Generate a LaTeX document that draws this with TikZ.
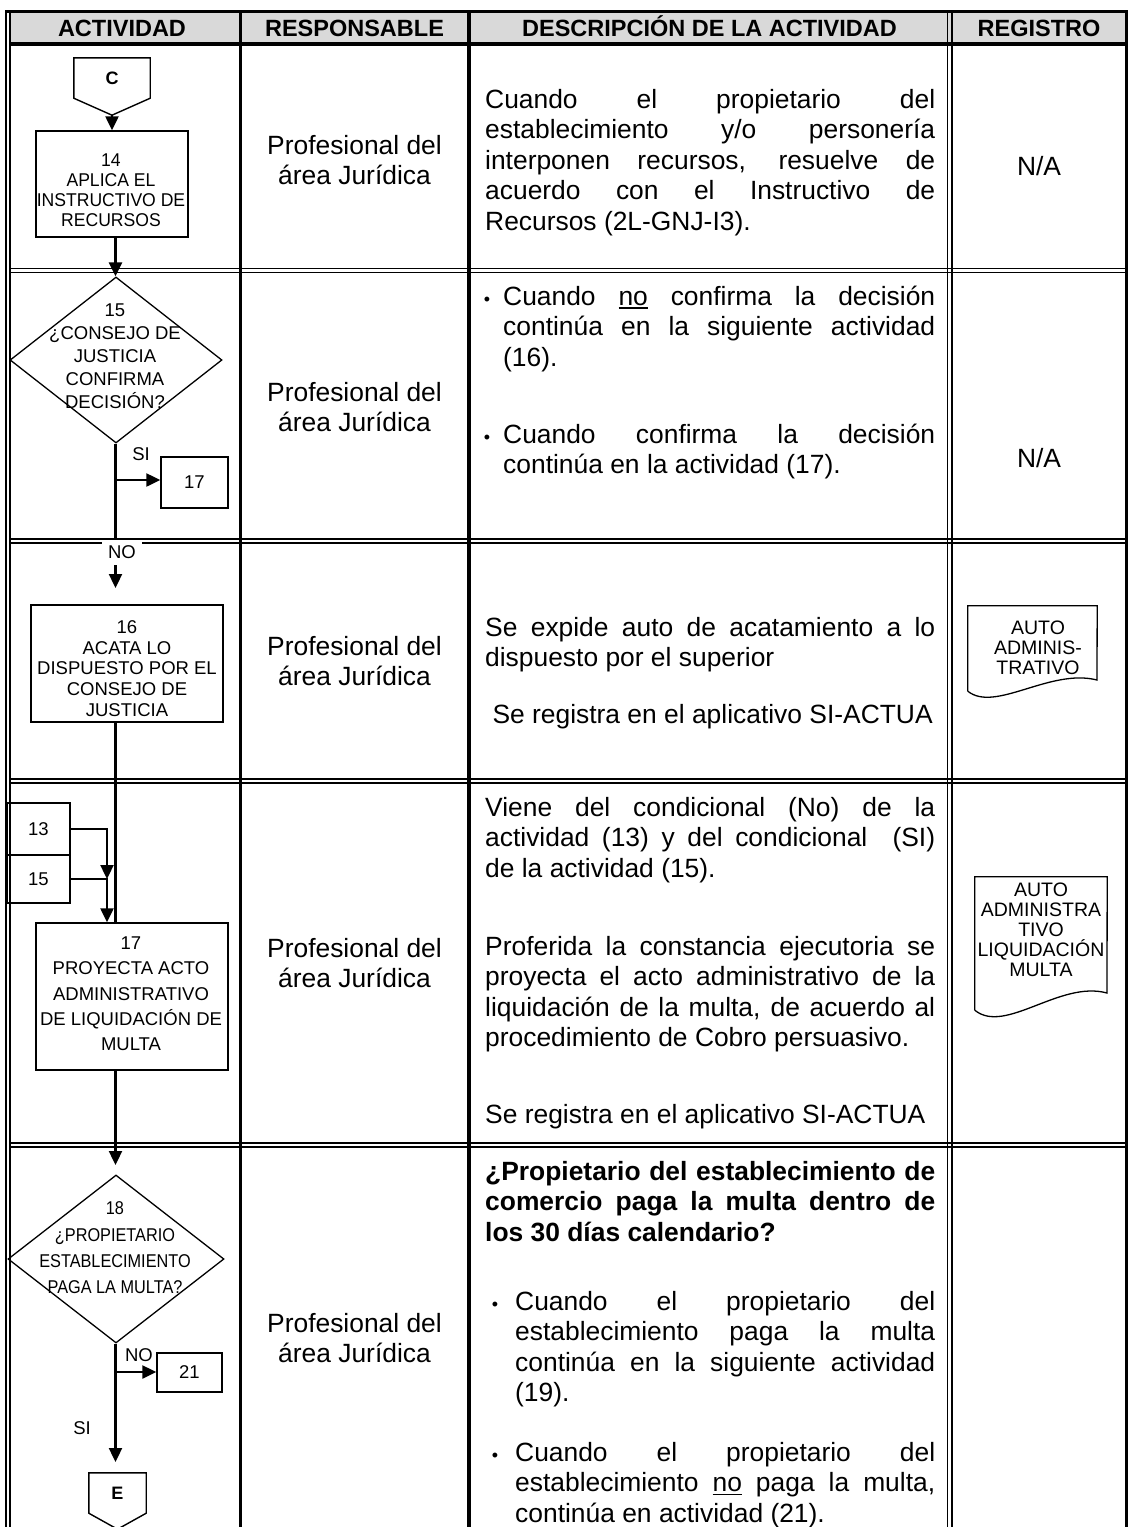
\documentclass[tikz,border=0pt]{standalone}
\usepackage{fontspec}
\usepackage{graphicx}
\setmainfont{Liberation Sans}
\usetikzlibrary{arrows.meta,shapes.geometric,calc}
\definecolor{hdr}{HTML}{D9D9D9}
\newcommand\myul[1]{\leavevmode\setbox0\hbox{#1}\rlap{\rule[-3.5pt]{\wd0}{1.6pt}}\box0{}}
\newcommand\descfont{\fontsize{26.4}{30.5}\selectfont\parindent=0pt \hyphenpenalty=10000 \exhyphenpenalty=10000 \tolerance=9999 }
\newcommand\boldfont{\descfont\bfseries}
\newcommand\cz[2]{\scalebox{#1}[1]{\begin{tabular}{@{}c@{}}#2\end{tabular}}}
\begin{document}
\begin{tikzpicture}[x=1pt,y=-1pt,
  hd/.style={font=\fontsize{23.5}{28}\selectfont\bfseries, inner sep=0pt, anchor=base},
  resp/.style={font=\fontsize{26.4}{30.5}\selectfont, align=center, inner sep=0pt},
  desc/.style={font=\descfont, text width=450pt, align=justify, inner sep=0pt, anchor=north west},
  bdesc/.style={desc, font=\boldfont},
  bul/.style={desc, text width=432pt},
  bul5/.style={desc, text width=420pt},
  dot/.style={font=\fontsize{18}{20}\selectfont, inner sep=0pt, anchor=base},
  na/.style={font=\fontsize{26.4}{30}\selectfont, inner sep=0pt},
  box/.style={draw, line width=1.4pt, inner sep=0pt, font=\fontsize{18.5}{21}\selectfont},
  dia/.style={diamond, draw, line width=1.3pt, inner sep=0pt},
  btxt/.style={inner sep=0pt, align=center},
  lbl/.style={font=\fontsize{18.5}{21}\selectfont, inner sep=0pt},
  flow/.style={line width=2.3pt},
  arr/.style={flow, -{Triangle[length=14pt,width=13pt]}},
  grid/.style={line width=1.5pt},
]
\useasboundingbox (0,0) rectangle (1128,1527);

% ---------- table ----------
\fill[hdr] (10,11) rectangle (1126,44);
\draw[line width=3pt] (6,11) -- (1127.5,11);
\draw[line width=3.5pt] (10,44) -- (1126,44);
\foreach \yy in {270.5,541,781,1145}{
  \draw[grid] (10,\yy-2) -- (1126,\yy-2);
  \draw[grid] (10,\yy+2) -- (1126,\yy+2);
}
\draw[grid] (6,10) -- (6,1527);
\draw[grid] (10,10) -- (10,1527);
\draw[line width=3pt] (240,11) -- (240,1527);
\draw[line width=3.5pt] (469,11) -- (469,1527);
\draw[line width=1.5pt] (947.5,11) -- (947.5,1527);
\draw[line width=1.5pt] (952,11) -- (952,1527);
\draw[line width=2.5pt] (1126.5,10) -- (1126.5,1527);

% ---------- header ----------
\node[hd] (hA) at (122,36) {ACTIVIDAD};
\node[hd] (hR) at (354.5,36) {RESPONSABLE};
\node[hd] (hD) at (709.5,36) {DESCRIPCIÓN DE LA ACTIVIDAD};
\node[hd] (hG) at (1039,36) {REGISTRO};

% ---------- responsable ----------
\node[resp] (p1) at (354.5,160) {Profesional del\\área Jurídica};
\node[resp] (p2) at (354.5,407) {Profesional del\\área Jurídica};
\node[resp] (p3) at (354.5,661) {Profesional del\\área Jurídica};
\node[resp] (p4) at (354.5,963) {Profesional del\\área Jurídica};
\node[resp] (p5) at (354.5,1338) {Profesional del\\área Jurídica};

% ---------- descripcion ----------
\node[desc] (t1) at (485,108-21.35) {\strut Cuando el propietario del\linebreak establecimiento y/o personería\linebreak interponen recursos, resuelve de\linebreak acuerdo con el Instructivo de\linebreak Recursos (2L-GNJ-I3).};

\node[dot] (u2a) at (487,305) {\textbullet};
\node[bul] (t2a) at (503,305-21.35) {\strut Cuando \myul{no} confirma la decisión\linebreak continúa en la siguiente actividad\linebreak (16).};
\node[dot] (u2b) at (487,443) {\textbullet};
\node[bul] (t2b) at (503,443-21.35) {\strut Cuando confirma la decisión\linebreak continúa en la actividad (17).};

\node[desc] (t3a) at (485,636-21.35) {\strut Se expide auto de acatamiento a lo\linebreak dispuesto por el superior};
\node[desc] (t3b) at (485,723-21.35) {\strut\ Se registra en el aplicativo SI-ACTUA};

\node[desc] (t4a) at (485,816-21.35) {\strut Viene del condicional (No) de la\linebreak actividad (13) y del condicional \ (SI)\linebreak de la actividad (15).};
\node[desc] (t4b) at (485,955-21.35) {\strut Proferida la constancia ejecutoria se\linebreak proyecta el acto administrativo de la\linebreak liquidación de la multa, de acuerdo al\linebreak procedimiento de Cobro persuasivo.};
\node[desc] (t4c) at (485,1123-21.35) {\strut Se registra en el aplicativo SI-ACTUA};

\node[bdesc] (t5a) at (485,1180-21.35) {\strut ¿Propietario del establecimiento de\linebreak comercio paga la multa dentro de\linebreak los 30 días calendario?};
\node[dot] (u5a) at (495,1310) {\textbullet};
\node[bul5] (t5b) at (515,1310-21.35) {\strut Cuando el propietario del\linebreak establecimiento paga la multa\linebreak continúa en la siguiente actividad\linebreak (19).};
\node[dot] (u5b) at (495,1461) {\textbullet};
\node[bul5] (t5c) at (515,1461-21.35) {\strut Cuando el propietario del\linebreak establecimiento \myul{no} paga la multa,\linebreak continúa en actividad (21).};

% ---------- registro ----------
\node[na] (n1) at (1039,166) {N/A};
\node[na] (n2) at (1039,458) {N/A};

\node[minimum width=129pt, minimum height=85pt, inner sep=0pt] (reg3) at (1032.5,648.5) {};
\draw[line width=1.3pt] (reg3.south west) -- (reg3.north west) -- (reg3.north east) -- (1097,680)
   .. controls (1050,668) and (995,713) .. (reg3.south west);
\node[btxt, font=\fontsize{19.5}{20}\selectfont] (reg3t) at (1038,648) {AUTO\\ADMINIS-\\TRATIVO};

\node[minimum width=132pt, minimum height=133pt, inner sep=0pt] (reg4) at (1041,943.5) {};
\draw[line width=1.3pt] (reg4.south west) -- (reg4.north west) -- (reg4.north east) -- (1107,993)
   .. controls (1060,980) and (1005,1035) .. (reg4.south west);
\node[btxt, font=\fontsize{19.5}{20}\selectfont] (reg4t) at (1041,930) {AUTO\\ADMINISTRA\\TIVO\\LIQUIDACIÓN\\MULTA};

% ---------- flow chart ----------
\coordinate (fx) at (115.5,0);
\coordinate (mx) at (107,0);

% C connector
\node[inner sep=0pt, minimum width=76pt, minimum height=40pt, font=\fontsize{18}{20}\selectfont\bfseries] (C) at (112,78) {C};
\coordinate (Ctip) at ($(C.south)+(0,17)$);
\draw[line width=1.4pt] (C.south west) -- (C.north west) -- (C.north east) -- (C.south east) -- (Ctip) -- cycle;

% 14
\node[box, minimum width=152pt, minimum height=106pt] (b14) at (112,184) {};
\node[btxt, font=\fontsize{18.5}{20}\selectfont] (b14t) at (111,192) {\cz{0.95}{14\\APLICA EL\\INSTRUCTIVO DE\\RECURSOS}};

% 15
\node[dia, minimum width=212pt, minimum height=166pt] (d15) at (116,360) {};
\node[btxt, font=\fontsize{18.5}{23}\selectfont] (d15t) at (115,356) {15\\¿CONSEJO DE\\JUSTICIA\\CONFIRMA\\DECISIÓN?};
\node[box, minimum width=67pt, minimum height=51pt] (s17) at (194.5,482.5) {17};
\node[lbl] (si1) at (141,454) {SI};

% 16
\node[box, minimum width=192pt, minimum height=117pt] (b16) at (127,663.5) {};
\node[btxt, font=\fontsize{18.5}{20.75}\selectfont] (b16t) at (127,668.5) {16\\ACATA LO\\DISPUESTO POR EL\\CONSEJO DE\\JUSTICIA};

% 13 / 15 references
\node[box, minimum width=63pt, minimum height=52pt] (r13) at (38.5,829) {13};
\node[box, minimum width=63pt, minimum height=48pt] (r15) at (38.5,879) {15};

% 17
\node[box, minimum width=192pt, minimum height=147pt] (b17) at (132,996.5) {};
\node[btxt, font=\fontsize{18.5}{25.3}\selectfont] (b17t) at (131,994) {17\\PROYECTA ACTO\\ADMINISTRATIVO\\DE LIQUIDACIÓN DE\\MULTA};

% 18
\node[dia, minimum width=216pt, minimum height=168pt] (d18) at (116,1259) {};
\node[btxt, font=\fontsize{18.5}{26.3}\selectfont] (d18t) at (115,1249) {\cz{0.88}{18\\¿PROPIETARIO\\ESTABLECIMIENTO\\PAGA LA MULTA?}};
\node[box, minimum width=65pt, minimum height=39pt] (r21) at (189.5,1372.5) {21};
\node[lbl] (no2) at (139,1355) {NO};
\node[lbl] (si2) at (82,1428) {SI};

% E connector
\node[inner sep=0pt, minimum width=57pt, minimum height=40pt, font=\fontsize{18}{20}\selectfont\bfseries] (E) at (117.5,1493) {E};
\coordinate (Etip) at ($(E.south)+(0,16)$);
\draw[line width=1.4pt] (E.south west) -- (E.north west) -- (E.north east) -- (E.south east) -- (Etip) -- cycle;

% connectors
\draw[arr] (Ctip) -- (b14.north -| Ctip);
\draw[arr] (b14.south -| fx) -- (d15.north -| fx);
\coordinate (br1) at (115.5,480);
\draw[arr] (br1) -- (s17.west |- br1);
\coordinate (noend) at (115.5,588);
\draw[arr] (d15.south -| fx) -- (noend);
\draw[flow] (b16.south -| fx) -- (b17.north -| fx);
\draw[arr] (r13.east) -- (r13.east -| mx) -- (r15.east -| mx);
\draw[arr] (r15.east) -- (r15.east -| mx) -- (b17.north -| mx);
\coordinate (a18) at (115.5,1165);
\draw[arr] (b17.south -| fx) -- (a18);
\coordinate (br2) at (115.5,1372);
\draw[arr] (br2) -- (r21.west |- br2);
\coordinate (aE) at (115.5,1462);
\draw[arr] (d18.south -| fx) -- (aE);

% NO label over the row line
\node[lbl, fill=white, minimum width=40pt, minimum height=25pt] (no1) at (122,552) {NO};
\end{tikzpicture}
\end{document}
